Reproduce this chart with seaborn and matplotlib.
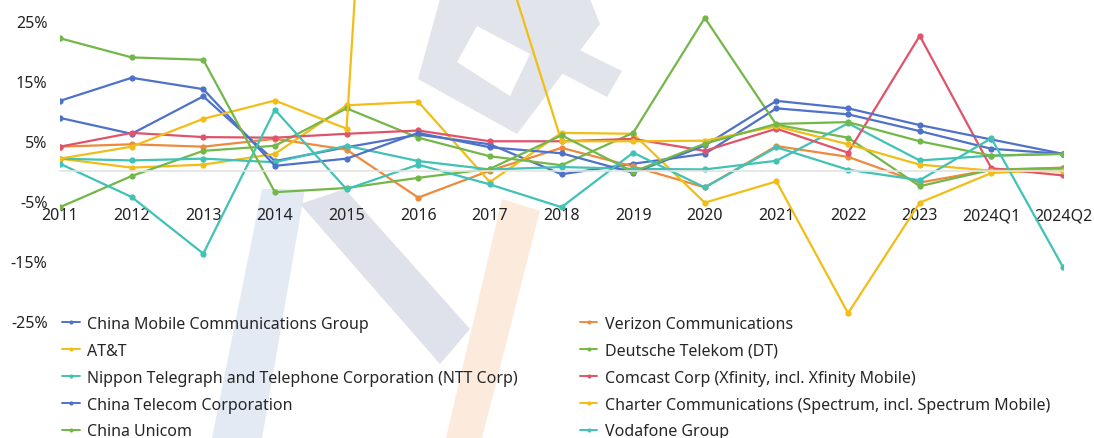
import numpy as np
import pandas as pd
import matplotlib
matplotlib.use("Agg")
import matplotlib.pyplot as plt
from matplotlib.patches import Polygon
from matplotlib.lines import Line2D
import seaborn as sns

# ── Data: revenue growth (%) by period ───────────────────────────────────────
periods = ["2011", "2012", "2013", "2014", "2015", "2016", "2017", "2018",
           "2019", "2020", "2021", "2022", "2023", "2024Q1", "2024Q2"]

china_mobile = [8.9, 6.25, 12.5, 1.7, 4.0, 6.1, 4.5, -0.5, 1.25, 2.9, 10.5, 9.5, 6.7, 3.75, 2.9]
verizon = [4.1, 4.5, 4.1, 5.4, 3.6, -4.4, 0.1, 3.9, 0.8, -2.7, 4.2, 2.4, -1.9, 0.25, 0.6]
att = [2.1, 0.6, 1.1, 2.9, 11.0, 11.6, -1.8, 6.4, 6.25, -5.25, -1.7, -23.7, -5.25, -0.3, 0.3]
deutsche_telekom = [-6.0, -0.8, 3.4, 4.25, 10.5, 5.6, 2.5, 1.0, 6.4, 25.6, 7.75, 5.6, -2.5, 0.25, 0.5]
ntt = [2.1, 1.8, 2.1, 1.5, 4.25, 1.7, 0.3, 0.7, 0.4, 0.3, 1.75, 8.0, 1.8, 2.6, 2.9]
comcast = [4.1, 6.4, 5.7, 5.6, 6.25, 6.8, 5.0, 5.0, 5.4, 3.4, 7.1, 3.1, 22.6, 0.5, -0.7]
china_telecom = [11.75, 15.6, 13.7, 0.9, 2.1, 6.4, 4.0, 3.0, -0.25, 4.3, 11.75, 10.5, 7.7, 5.3, 2.9]
charter = [2.1, 4.1, 8.75, 11.8, 7.1, 198.0, 43.0, 5.0, 5.0, 5.1, 7.5, 4.5, 1.1, 0.1, 0.0]
china_unicom = [22.2, 19.0, 18.6, -3.5, -2.8, -1.1, 0.4, 6.0, -0.1, 4.6, 7.9, 8.2, 5.0, 2.6, 2.9]
vodafone = [1.25, -4.3, -13.75, 10.25, -3.0, 1.1, -2.2, -6.0, 3.1, -2.7, 4.0, 0.25, -1.5, 5.5, -16.0]

companies = [
    "China Mobile Communications Group",
    "Verizon Communications",
    "AT&T",
    "Deutsche Telekom (DT)",
    "Nippon Telegraph and Telephone Corporation (NTT Corp)",
    "Comcast Corp (Xfinity, incl. Xfinity Mobile)",
    "China Telecom Corporation",
    "Charter Communications (Spectrum, incl. Spectrum Mobile)",
    "China Unicom",
    "Vodafone Group",
]
series = [china_mobile, verizon, att, deutsche_telekom, ntt,
          comcast, china_telecom, charter, china_unicom, vodafone]

BLUE, ORANGE, YELLOW = "#4f72c9", "#ec8a3e", "#f1bd17"
GREEN, TEAL, RED = "#74b749", "#40c2b5", "#e0536a"
colors = [BLUE, ORANGE, YELLOW, GREEN, TEAL, RED, BLUE, YELLOW, GREEN, TEAL]
palette = dict(zip(companies, colors))

df = pd.DataFrame({
    "period": np.tile(periods, len(companies)),
    "company": np.repeat(companies, len(periods)),
    "growth": np.concatenate(series),
})

# ── Figure ───────────────────────────────────────────────────────────────────
sns.set_theme(style="white")
plt.rcParams["font.family"] = ["Noto Sans", "DejaVu Sans"]

W, H = 1094, 439
fig = plt.figure(figsize=(W / 100, H / 100), dpi=100)


def px(x, y):
    return (x / W, 1 - y / H)


# faint watermark behind everything
marks = [
    ("#e2e4ec", [(440, 0), (590, 0), (600, 25), (517, 135), (418, 80)]),
    ("#ffffff", [(477, 27), (530, 55), (510, 97), (457, 63)]),
    ("#e2e4ec", [(557, 40), (622, 72), (607, 98), (548, 67)]),
    ("#e3eaf4", [(262, 190), (305, 190), (262, 439), (212, 439)]),
    ("#dfe2ea", [(300, 205), (345, 190), (470, 330), (440, 365)]),
    ("#fcebdc", [(502, 200), (540, 212), (482, 439), (446, 439)]),
]
for col, pts in marks:
    fig.patches.append(Polygon([px(*p) for p in pts], closed=True, transform=fig.transFigure,
                               facecolor=col, edgecolor="none", zorder=-5))

ax = fig.add_axes([60 / W, (H - 322) / H, (1063 - 60) / W, 322 / H])
ax.patch.set_alpha(0)

sns.lineplot(data=df, x="period", y="growth", hue="company", hue_order=companies,
             palette=palette, sort=False, marker="o", markersize=4.5,
             markeredgewidth=0, linewidth=1.6, legend=False, ax=ax)

ax.set_xlim(0, len(periods) - 1)
ax.set_ylim(-25, 28.75)
ax.set_yticks([25, 15, 5, -5, -15, -25])
ax.set_yticklabels([f"{t}%" for t in [25, 15, 5, -5, -15, -25]])
ax.set_xlabel("")
ax.set_ylabel("")

for s in ["top", "right", "left"]:
    ax.spines[s].set_visible(False)
ax.spines["bottom"].set_position(("data", 0))
ax.spines["bottom"].set_color("#e3e3e3")
ax.spines["bottom"].set_linewidth(1.2)
ax.tick_params(axis="x", direction="in", length=5, color="#e3e3e3", pad=26,
               labelsize=11.5, labelcolor="#222222")
ax.tick_params(axis="y", length=0, pad=9, labelsize=11.5, labelcolor="#222222")

# legend (two columns, row-major order)
handles = [Line2D([], [], color=c, marker="o", markersize=3, markeredgewidth=0, lw=1.4)
           for c in colors]
order = [0, 2, 4, 6, 8, 1, 3, 5, 7, 9]
fig.legend([handles[i] for i in order], [companies[i] for i in order],
           loc="upper left", bbox_to_anchor=px(62, 317), ncol=2, frameon=False,
           fontsize=11.5, handlelength=1.1, handletextpad=0.45, labelspacing=0.68,
           columnspacing=3.9, borderaxespad=0, borderpad=0)

fig.savefig("out.png", dpi=100)
